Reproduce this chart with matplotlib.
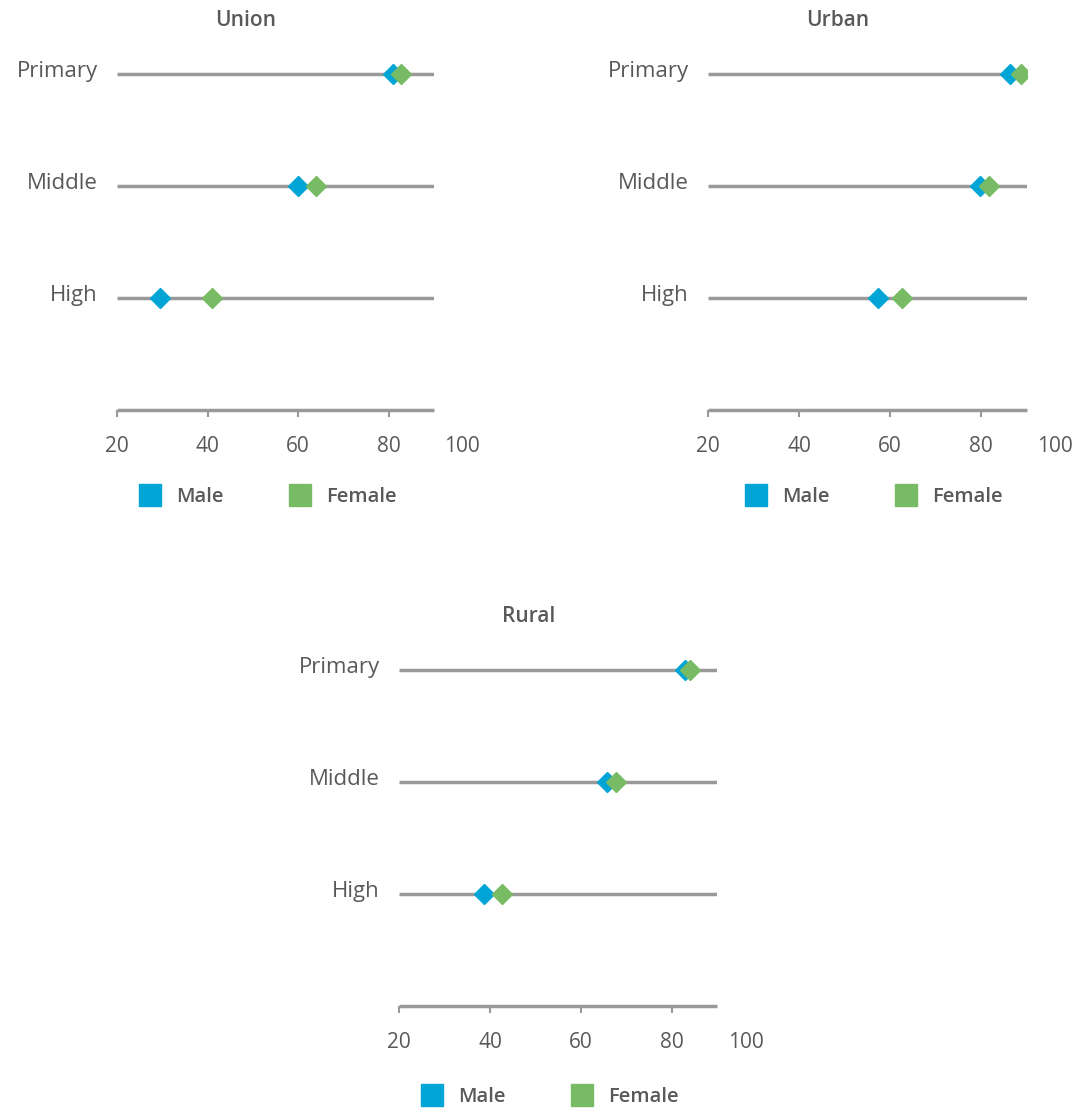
import matplotlib.pyplot as plt
from matplotlib.lines import Line2D
from matplotlib.transforms import blended_transform_factory

plt.rcParams["font.family"] = ["Open Sans", "DejaVu Sans"]

levels = ["Primary", "Middle", "High"]
tick_values = [20, 40, 60, 80]
tick_labels = ["20", "40", "60", "80"]

union_male = [80.9, 60.0, 29.6]
union_female = [82.8, 64.0, 40.9]
urban_male = [86.4, 79.7, 57.3]
urban_female = [88.7, 81.7, 62.7]
rural_male = [82.8, 65.7, 38.6]
rural_female = [84.0, 67.6, 42.7]

MALE = "#00A5D5"
FEMALE = "#77BC65"
LINE = "#999999"
TEXT = "#595959"

W, H = 1080, 1110
TICK_LEN, TICK_PAD = 5, 14


def px_rect(left, bottom_px, width):
    # axes rect from pixel coords; bottom_px is the y of the x-axis line
    height = 3.2 * 112
    return [left / W, (H - bottom_px) / H, width / W, height / H]


def draw_panel(fig, rect, title, title_xy, legend_xy, male, female):
    ax = fig.add_axes(rect)
    rows = [3, 2, 1]
    for y in rows:
        ax.plot([20, 90], [y, y], color=LINE, linewidth=2.5, zorder=1,
                solid_capstyle="butt")
    ax.plot(male, rows, "D", color=MALE, markersize=10.5, linestyle="none", zorder=3)
    ax.plot(female, rows, "D", color=FEMALE, markersize=10.5, linestyle="none", zorder=4)

    ax.set_xlim(20, 90)
    ax.set_ylim(0, 3.2)

    # category labels sit a little above their lines
    trans_y = blended_transform_factory(ax.transAxes, ax.transData)
    for y, name in zip(rows, levels):
        ax.annotate(name, xy=(0, y), xycoords=trans_y, xytext=(-14, 2),
                    textcoords="offset points", ha="right", va="center",
                    fontsize=16, color=TEXT, annotation_clip=False)
    ax.set_yticks([])

    ax.set_xticks(tick_values)
    ax.set_xticklabels(tick_labels, fontsize=15, color=TEXT)
    ax.tick_params(axis="x", length=TICK_LEN, width=1.5, color=LINE, pad=TICK_PAD)
    for side in ["left", "right", "top"]:
        ax.spines[side].set_visible(False)
    ax.spines["bottom"].set_color(LINE)
    ax.spines["bottom"].set_linewidth(2.5)
    ax.spines["bottom"].set_capstyle("butt")

    # the "100" label sits past the end of the axis line, in line with the ticks
    trans, va, ha = ax.get_xaxis_text1_transform(TICK_LEN + TICK_PAD)
    ax.text(96.2, 0, "100", transform=trans, va=va, ha=ha,
            fontsize=15, color=TEXT, clip_on=False)

    fig.text(title_xy[0] / W, 1 - title_xy[1] / H, title, ha="center",
             va="center", fontsize=15, fontweight="semibold", color=TEXT)

    handles = [
        Line2D([], [], marker="s", linestyle="none", color=MALE, markersize=16),
        Line2D([], [], marker="s", linestyle="none", color=FEMALE, markersize=16),
    ]
    fig.legend(handles, ["Male", "Female"], loc="center",
               bbox_to_anchor=(legend_xy[0] / W, 1 - legend_xy[1] / H),
               ncol=2, frameon=False, handlelength=1.2,
               handletextpad=0.7, columnspacing=3.2,
               labelcolor=TEXT, prop={"weight": "semibold", "size": 14.5})
    return ax


fig = plt.figure(figsize=(W / 100, H / 100), dpi=100)

draw_panel(fig, px_rect(117, 410, 317), "Union", (246, 21), (267, 497),
           union_male, union_female)
draw_panel(fig, px_rect(708, 410, 318.7), "Urban", (838, 21), (873, 497),
           urban_male, urban_female)
draw_panel(fig, px_rect(399.3, 1006, 318), "Rural", (529, 617), (549, 1097),
           rural_male, rural_female)

fig.savefig("out.png", dpi=100, facecolor="white")
